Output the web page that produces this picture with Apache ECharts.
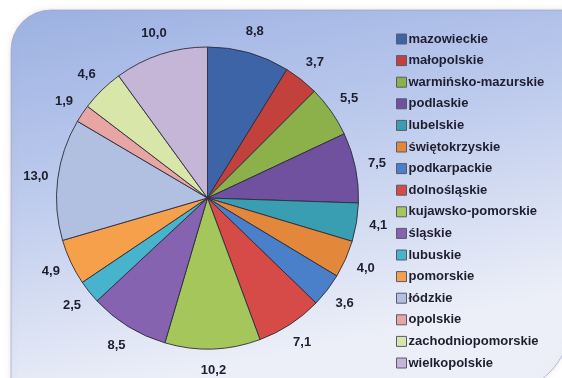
<!DOCTYPE html>
<html>
<head>
<meta charset="utf-8">
<script src="https://cdn.jsdelivr.net/npm/echarts@6/dist/echarts.min.js"></script>
<style>
  html, body { margin: 0; padding: 0; background: #ffffff; }
  #chart { width: 562px; height: 378px; }
</style>
</head>
<body>
<div id="chart"></div>
<script>
// Voivodeships, in slice order (clockwise from 12 o'clock)
const regions = [
  'mazowieckie', 'małopolskie', 'warmińsko-mazurskie', 'podlaskie',
  'lubelskie', 'świętokrzyskie', 'podkarpackie', 'dolnośląskie',
  'kujawsko-pomorskie', 'śląskie', 'lubuskie', 'pomorskie',
  'łódzkie', 'opolskie', 'zachodniopomorskie', 'wielkopolskie'
];
// Share of each voivodeship (%)
const shares = [8.8, 3.7, 5.5, 7.5, 4.1, 4.0, 3.6, 7.1, 10.2, 8.5, 2.5, 4.9, 13.0, 1.9, 4.6, 10.0];
// Slice colours
const sliceColors = [
  '#3d64a6', '#c2413d', '#8db14a', '#6f51a0',
  '#3a9eb2', '#e3883a', '#4a80c9', '#d64a47',
  '#a5c65b', '#8663b0', '#47b3cc', '#f7a04c',
  '#b1c0e1', '#e7a6a4', '#d8e6aa', '#c5b5d7'
];

const fmt = v => v.toFixed(1).replace('.', ',');

const pieData = regions.map((name, i) => ({
  name: name,
  value: shares[i],
  itemStyle: { color: sliceColors[i] }
}));

const chart = echarts.init(document.getElementById('chart'), null, { renderer: 'canvas' });

const center = [207.5, 198];

chart.setOption({
  animation: false,
  backgroundColor: '#ffffff',
  graphic: [{
    type: 'rect',
    z: -10,
    silent: true,
    shape: { x: 11, y: 10, width: 560, height: 385, r: [40, 0, 75, 0] },
    style: {
      fill: {
        type: 'linear', x: 0, y: 0, x2: 0.15, y2: 1,
        colorStops: [
          { offset: 0, color: '#9cb1e2' },
          { offset: 0.45, color: '#bbc9ec' },
          { offset: 1, color: '#eceff8' }
        ]
      },
      stroke: 'rgba(150,165,200,0.7)',
      lineWidth: 1,
      shadowBlur: 6,
      shadowColor: 'rgba(200,150,150,0.25)'
    }
  }],
  legend: {
    orient: 'vertical',
    left: 396,
    top: 32,
    padding: 0,
    itemWidth: 10,
    itemHeight: 10,
    itemGap: 7.6,
    icon: 'rect',
    itemStyle: { borderColor: '#5a5a6a', borderWidth: 1 },
    textStyle: {
      fontFamily: 'Liberation Sans, Arial, sans-serif',
      fontWeight: 'bold',
      fontSize: 13,
      color: '#1e1e2e',
      lineHeight: 14,
      padding: [0, 0, 0, -3]
    },
    data: regions
  },
  series: [
    {
      type: 'pie',
      center: center,
      radius: [0, 151],
      startAngle: 90,
      clockwise: true,
      avoidLabelOverlap: false,
      silent: true,
      itemStyle: { borderColor: '#2c2c3a', borderWidth: 0.9 },
      label: { show: false },
      labelLine: { show: false },
      data: pieData
    },
    {
      // transparent ring that carries the value labels just outside the pie
      type: 'pie',
      center: center,
      radius: [160, 180],
      startAngle: 90,
      clockwise: true,
      avoidLabelOverlap: false,
      silent: true,
      legendHoverLink: false,
      itemStyle: { color: 'rgba(0,0,0,0)', borderWidth: 0 },
      label: {
        show: true,
        position: 'inside',
        formatter: p => fmt(p.value),
        fontFamily: 'Liberation Sans, Arial, sans-serif',
        fontWeight: 'bold',
        fontSize: 13,
        color: '#1e1e2e'
      },
      labelLine: { show: false },
      data: regions.map((name, i) => ({ name: name, value: shares[i] }))
    }
  ]
});
</script>
</body>
</html>
